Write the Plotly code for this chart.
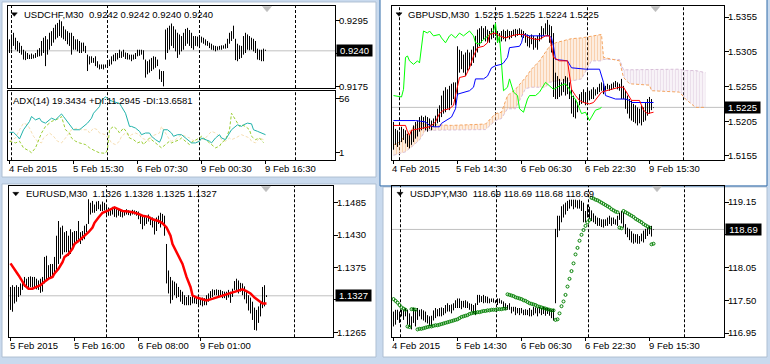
import plotly.graph_objects as go

W, H = 770, 364

# ---------------- USDCHF, M30 ----------------
usdchf_high = [0.9261,0.9270,0.9273,0.9264,0.9258,0.9255,0.9249,0.9242,0.9239,0.9236,
               0.9233,0.9235,0.9233,0.9236,0.9242,0.9245,0.9258,0.9264,0.9267,0.9261,
               0.9273,0.9276,0.9282,0.9288,0.9291,0.9297,0.9294,0.9285,0.9279,0.9276,
               0.9273,0.9273,0.9267,0.9261,0.9261,0.9258,0.9255,0.9255,0.9249,0.9233,
               0.9230,0.9230,0.9227,0.9230,0.9221,0.9215,0.9215,0.9215,0.9215,0.9219,
               0.9224,0.9230,0.9233,0.9236,0.9236,0.9242,0.9239,0.9242,0.9237,0.9236,
               0.9233,0.9233,0.9233,0.9236,0.9242,0.9242,0.9242,0.9241,0.9224,0.9221,
               0.9224,0.9227,0.9230,0.9229,0.9224,0.9206,0.9203,0.9203,0.9279,0.9282,
               0.9286,0.9290,0.9285,0.9279,0.9273,0.9270,0.9267,0.9273,0.9280,0.9282,
               0.9278,0.9273,0.9267,0.9267,0.9266,0.9268,0.9266,0.9264,0.9261,0.9258,
               0.9255,0.9253,0.9250,0.9249,0.9248,0.9249,0.9250,0.9250,0.9253,0.9262,
               0.9273,0.9276,0.9286,0.9262,0.9253,0.9250,0.9249,0.9267,0.9273,0.9270,
               0.9267,0.9264,0.9262,0.9258,0.9244,0.9242,0.9242,0.9244,0.9242]
usdchf_low = [0.9236,0.9242,0.9249,0.9242,0.9239,0.9236,0.9233,0.9224,0.9223,0.9225,
              0.9225,0.9225,0.9226,0.9227,0.9229,0.9230,0.9231,0.9236,0.9212,0.9233,
              0.9242,0.9249,0.9255,0.9261,0.9264,0.9267,0.9264,0.9261,0.9258,0.9252,
              0.9249,0.9233,0.9242,0.9242,0.9239,0.9236,0.9236,0.9239,0.9236,0.9203,
              0.9215,0.9218,0.9218,0.9212,0.9209,0.9206,0.9207,0.9206,0.9209,0.9209,
              0.9212,0.9215,0.9221,0.9221,0.9224,0.9227,0.9227,0.9229,0.9225,0.9224,
              0.9224,0.9221,0.9224,0.9225,0.9230,0.9231,0.9233,0.9224,0.9191,0.9197,
              0.9200,0.9203,0.9206,0.9209,0.9212,0.9188,0.9183,0.9175,0.9224,0.9236,
              0.9242,0.9249,0.9245,0.9239,0.9227,0.9233,0.9239,0.9242,0.9249,0.9253,
              0.9249,0.9245,0.9242,0.9249,0.9248,0.9245,0.9255,0.9253,0.9250,0.9249,
              0.9245,0.9242,0.9241,0.9239,0.9241,0.9242,0.9242,0.9244,0.9244,0.9245,
              0.9253,0.9258,0.9262,0.9223,0.9221,0.9225,0.9227,0.9233,0.9236,0.9242,
              0.9241,0.9242,0.9239,0.9236,0.9224,0.9223,0.9221,0.9221,0.9240]
usdchf_last = 0.9240
usdchf_ticks = [0.9295, 0.9235, 0.9175]
usdchf_tick_text = ["0.9295", "", "0.9175"]      # middle label hidden behind the price box
usdchf_title = "USDCHF,M30\u00a0 0.9242 0.9242 0.9240 0.9240"
usdchf_dates = ["4 Feb 2015", "5 Feb 15:30", "6 Feb 07:30", "9 Feb 00:30", "9 Feb 16:30"]
usdchf_date_bars = [0, 32, 64, 96, 128]
usdchf_day_sep = [1, 49, 95, 143]

# ADX(14) on USDCHF
adx_bars = [0,2,4,5,7,10,11,13,15,16,18,20,21,23,26,27,29,31,32,35,37,39,41,42,45,46,48,50,52,55,
            56,58,60,61,63,65,66,68,70,71,73,75,76,77,79,81,82,84,86,88,90,91,93,95,96,98,100,101,
            103,105,106,108,110,111,114,116,117,119,121,122,124,126,128]
adx_main = [21.7,21.7,17.7,15,24.3,32.7,37.7,34.3,36,32.7,31,34.3,36,34.3,40.3,37.7,32.7,27.7,24.3,24.3,
            27.7,31,36,41,47.7,54.3,57.5,54.3,52.7,51,47.7,41,27.7,27.7,26,22.7,19.3,21,21,17.7,
            14.3,11.7,16,24.3,24.3,21,17.7,19.3,19.3,16,12.7,11,11,12.7,16,14.3,12.7,11,16,19.3,
            16,14.3,21,24.3,29.3,27.7,29.3,31,30.3,24.3,22.7,21,19.3]
pdi_bars = [0,3,5,7,10,11,13,15,16,18,20,21,23,25,26,28,30,31,33,35,38,40,43,45,48,49,50,52,54,55,
            57,59,60,62,64,66,67,70,71,73,75,76,78,80,81,83,85,86,88,90,91,93,95,96,98,100,101,103,
            105,106,108,110,111,113,115,116,118,120,121,123,125,127]
pdi_vals = [12.7,11,12.7,6,2.7,1,6,16,21,27.7,31,32.7,34.3,36,37.7,24.3,21,16,12.7,11,
            9.3,6,2.7,1,0.5,4.3,24.3,27.7,24.3,21,26,21,16,14.3,11,12.7,9.3,16,14.3,11,
            7.7,6,9.3,12.7,11,12.7,14.3,16,12.7,9.3,11.7,13.7,16,17.7,14.3,11.7,9.3,6,7.7,11,
            14.3,24.3,41,34.3,27.7,29.3,27.7,24.3,17.7,14.3,16,11.3]
mdi_bars = [0,3,5,7,9,10,12,14,16,17,20,22,24,26,28,30,31,34,36,39,40,42,44,45,48,50,51,53,55,56,
            58,60,61,63,65,66,68,70,71,73,75,76,78,80,81,83,85,86,88,90,91,93,95,96,98,100,101,103,
            105,106,108,110,111,113,115,116,118,120,121,123,125,127]
mdi_vals = [12.7,16,24.3,31,29.3,26,17.7,12.7,11,16,21,17.7,12.7,11,16,21,24.3,26,24.3,24.3,
            21,26,24.3,21,19.3,14.3,11,9.3,12.7,17.7,21,17.7,19.3,21,19.3,16,14.3,12.7,17.7,19.3,
            21,27.7,21,14.3,12.7,14.3,17.7,19.3,17.7,16,14.3,12.7,12.7,14.3,16,21,22.7,21,17.7,14.3,
            12.7,16,14.3,16,17.7,19.3,17.7,16,12.7,11,16,14.3]
adx_ticks = [56, 1]
adx_tick_text = ["56", "1"]
adx_title = "ADX(14) 19.3434 +DI:11.2945 -DI:13.6581"

# ---------------- GBPUSD, M30 ----------------
gbpusd_high = [1.5204,1.5194,1.5192,1.5190,1.5197,1.5194,1.5192,1.5187,1.5185,1.5192,
               1.5199,1.5204,1.5206,1.5211,1.5213,1.5211,1.5213,1.5211,1.5209,1.5206,
               1.5209,1.5213,1.5223,1.5228,1.5242,1.5249,1.5254,1.5251,1.5256,1.5259,
               1.5261,1.5261,1.5313,1.5308,1.5306,1.5301,1.5304,1.5308,1.5304,1.5308,
               1.5313,1.5328,1.5337,1.5339,1.5342,1.5339,1.5342,1.5337,1.5335,1.5339,
               1.5344,1.5346,1.5335,1.5332,1.5335,1.5337,1.5335,1.5337,1.5335,1.5335,
               1.5337,1.5338,1.5337,1.5339,1.5337,1.5335,1.5332,1.5330,1.5328,1.5330,
               1.5328,1.5325,1.5328,1.5332,1.5342,1.5339,1.5346,1.5351,1.5344,1.5342,
               1.5332,1.5275,1.5270,1.5266,1.5261,1.5266,1.5270,1.5268,1.5261,1.5251,
               1.5242,1.5237,1.5232,1.5244,1.5247,1.5251,1.5247,1.5251,1.5249,1.5251,
               1.5254,1.5251,1.5254,1.5259,1.5261,1.5259,1.5256,1.5259,1.5257,1.5259,
               1.5261,1.5263,1.5261,1.5259,1.5266,1.5256,1.5249,1.5242,1.5237,1.5235,
               1.5230,1.5228,1.5225,1.5223,1.5228,1.5225,1.5232,1.5237,1.5240,1.5237,
               1.5225]
gbpusd_low = [1.5164,1.5171,1.5168,1.5171,1.5175,1.5178,1.5173,1.5168,1.5166,1.5171,
              1.5175,1.5180,1.5183,1.5190,1.5192,1.5194,1.5192,1.5190,1.5194,1.5192,
              1.5197,1.5197,1.5202,1.5204,1.5211,1.5216,1.5218,1.5223,1.5221,1.5228,
              1.5237,1.5228,1.5242,1.5275,1.5280,1.5275,1.5270,1.5278,1.5280,1.5285,
              1.5289,1.5297,1.5304,1.5313,1.5318,1.5323,1.5320,1.5318,1.5318,1.5323,
              1.5325,1.5328,1.5318,1.5318,1.5320,1.5323,1.5320,1.5325,1.5323,1.5325,
              1.5328,1.5326,1.5328,1.5330,1.5326,1.5325,1.5318,1.5313,1.5311,1.5316,
              1.5308,1.5311,1.5308,1.5320,1.5323,1.5328,1.5330,1.5328,1.5318,1.5304,
              1.5240,1.5237,1.5237,1.5240,1.5242,1.5247,1.5242,1.5244,1.5237,1.5216,
              1.5211,1.5209,1.5218,1.5228,1.5230,1.5232,1.5228,1.5232,1.5235,1.5237,
              1.5237,1.5242,1.5244,1.5247,1.5249,1.5244,1.5249,1.5251,1.5249,1.5250,
              1.5252,1.5254,1.5251,1.5249,1.5237,1.5237,1.5223,1.5216,1.5209,1.5206,
              1.5204,1.5202,1.5199,1.5202,1.5199,1.5204,1.5206,1.5213,1.5216,1.5221,
              1.5224]
gbpusd_last = 1.5225
gbpusd_ticks = [1.5355, 1.5305, 1.5255, 1.5205, 1.5155]
gbpusd_tick_text = ["1.5355", "1.5305", "1.5255", "1.5205", "1.5155"]
gbpusd_title = "GBPUSD,M30\u00a0 1.5225 1.5225 1.5224 1.5225"
gbpusd_dates = ["4 Feb 2015", "5 Feb 14:30", "6 Feb 06:30", "6 Feb 22:30", "9 Feb 15:30"]
gbpusd_date_bars = [0, 32, 64, 96, 128]
gbpusd_day_sep = [3, 51, 97, 145]

# Ichimoku on GBPUSD
tenkan_bars = [0,6,7,8,9,12,18,19,21,23,25,28,30,31,33,36,38,40,42,45,47,48,51,53,56,59,62,65,68,71,
               73,76,78,80,83,87,88,89,91,93,95,98,100,102,104,109,113,115,117,119,123,125,127,130]
tenkan = [1.5199,1.5199,1.5190,1.5185,1.5192,1.5194,1.5197,1.5199,1.5204,1.5216,
          1.5221,1.5223,1.5228,1.5242,1.5268,1.5270,1.5282,1.5299,1.5311,1.5313,
          1.5318,1.5330,1.5332,1.5328,1.5325,1.5328,1.5330,1.5330,1.5325,1.5323,
          1.5323,1.5328,1.5328,1.5297,1.5292,1.5292,1.5268,1.5251,1.5242,1.5235,
          1.5232,1.5230,1.5232,1.5240,1.5247,1.5251,1.5254,1.5254,1.5244,1.5235,
          1.5235,1.5221,1.5216,1.5218]
kijun_bars = [0,11,16,18,20,23,24,29,31,32,38,40,41,45,47,49,51,54,55,57,58,63,64,65,68,78,79,80,81,87,
              89,96,103,105,106,111,116,118,119,130]
kijun = [1.5206,1.5206,1.5204,1.5199,1.5197,1.5197,1.5202,1.5211,1.5223,1.5244,
         1.5249,1.5254,1.5266,1.5266,1.5270,1.5282,1.5285,1.5287,1.5289,1.5297,
         1.5311,1.5313,1.5318,1.5330,1.5328,1.5328,1.5325,1.5313,1.5294,1.5292,
         1.5282,1.5280,1.5280,1.5261,1.5242,1.5237,1.5237,1.5235,1.5232,1.5232]
chikou_bars = [0,4,5,6,7,8,10,12,13,14,15,17,18,20,23,24,26,28,29,31,33,35,37,38,40,41,43,44,46,48,
               50,51,52,53,54,55,57,58,60,62,63,65,67,68,71,73,76,78,80,82,83,86,88,89,91,93,94,96,
               98,99,101,103,104]
chikou = [1.5242,1.5240,1.5251,1.5297,1.5299,1.5292,1.5287,1.5292,1.5289,1.5313,
          1.5335,1.5332,1.5335,1.5328,1.5330,1.5325,1.5318,1.5328,1.5330,1.5325,
          1.5332,1.5328,1.5332,1.5335,1.5328,1.5318,1.5316,1.5320,1.5325,1.5330,
          1.5335,1.5346,1.5318,1.5328,1.5289,1.5249,1.5254,1.5266,1.5247,1.5242,
          1.5223,1.5218,1.5237,1.5242,1.5242,1.5247,1.5261,1.5256,1.5251,1.5254,
          1.5256,1.5259,1.5251,1.5242,1.5237,1.5223,1.5216,1.5218,1.5206,1.5211,
          1.5221,1.5223,1.5225]
kumo_bars = [0,3,6,9,13,16,21,29,38,46,51,54,57,61,66,69,73,76,78,81,84,89,94,99,104,105,109,113,
             115,118,128,129,143,146,151,156]
span_a = [1.5171,1.5175,1.5185,1.5194,1.5203,1.5200,1.5200,1.5199,1.5200,1.5201,
          1.5216,1.5218,1.5242,1.5251,1.5268,1.5280,1.5292,1.5304,1.5313,1.5318,
          1.5320,1.5324,1.5325,1.5328,1.5330,1.5297,1.5294,1.5292,1.5268,1.5259,
          1.5257,1.5249,1.5247,1.5237,1.5225,1.5225]
span_b = [1.5156,1.5159,1.5161,1.5168,1.5178,1.5192,1.5192,1.5193,1.5193,1.5193,
          1.5206,1.5209,1.5223,1.5223,1.5252,1.5254,1.5254,1.5254,1.5261,1.5263,
          1.5263,1.5263,1.5266,1.5292,1.5292,1.5294,1.5294,1.5294,1.5279,1.5279,
          1.5279,1.5280,1.5280,1.5278,1.5278,1.5275]
kumo_cross_bar = 109

# ---------------- EURUSD, M30 ----------------
eurusd_high = [1.1342,1.1345,1.1342,1.1345,1.1342,1.1348,1.1353,1.1359,1.1356,1.1359,
               1.1360,1.1359,1.1359,1.1356,1.1353,1.1356,1.1359,1.1393,1.1395,1.1379,
               1.1381,1.1381,1.1393,1.1429,1.1454,1.1443,1.1446,1.1435,1.1437,1.1429,
               1.1440,1.1435,1.1437,1.1437,1.1454,1.1435,1.1437,1.1446,1.1449,1.1491,
               1.1485,1.1488,1.1482,1.1487,1.1488,1.1482,1.1487,1.1485,1.1478,1.1477,
               1.1474,1.1478,1.1477,1.1474,1.1474,1.1472,1.1471,1.1472,1.1474,1.1472,
               1.1471,1.1473,1.1472,1.1471,1.1470,1.1465,1.1464,1.1463,1.1460,1.1465,
               1.1461,1.1460,1.1454,1.1460,1.1463,1.1468,1.1466,1.1463,1.1415,1.1370,
               1.1359,1.1353,1.1351,1.1348,1.1342,1.1337,1.1334,1.1328,1.1325,1.1328,
               1.1325,1.1328,1.1325,1.1325,1.1324,1.1323,1.1324,1.1323,1.1328,1.1331,
               1.1335,1.1338,1.1337,1.1338,1.1337,1.1337,1.1335,1.1334,1.1334,1.1337,
               1.1334,1.1339,1.1352,1.1356,1.1353,1.1349,1.1348,1.1343,1.1334,1.1328,
               1.1324,1.1317,1.1307,1.1303,1.1309,1.1315,1.1342,1.1345,1.1328]
eurusd_low = [1.1303,1.1300,1.1314,1.1317,1.1325,1.1328,1.1337,1.1342,1.1342,1.1339,
              1.1342,1.1341,1.1339,1.1338,1.1337,1.1332,1.1334,1.1348,1.1353,1.1356,
              1.1359,1.1362,1.1365,1.1370,1.1381,1.1390,1.1397,1.1401,1.1401,1.1395,
              1.1398,1.1407,1.1412,1.1418,1.1418,1.1415,1.1421,1.1423,1.1435,1.1449,
              1.1465,1.1468,1.1468,1.1471,1.1474,1.1471,1.1471,1.1472,1.1465,1.1463,
              1.1463,1.1465,1.1461,1.1460,1.1463,1.1461,1.1460,1.1463,1.1465,1.1464,
              1.1463,1.1465,1.1465,1.1463,1.1457,1.1449,1.1440,1.1446,1.1449,1.1453,
              1.1447,1.1443,1.1431,1.1437,1.1449,1.1443,1.1450,1.1429,1.1348,1.1331,
              1.1314,1.1320,1.1328,1.1323,1.1325,1.1317,1.1313,1.1311,1.1311,1.1311,
              1.1311,1.1314,1.1314,1.1313,1.1311,1.1311,1.1309,1.1311,1.1311,1.1317,
              1.1323,1.1325,1.1328,1.1328,1.1325,1.1325,1.1323,1.1323,1.1320,1.1324,
              1.1315,1.1325,1.1337,1.1334,1.1331,1.1334,1.1328,1.1321,1.1314,1.1302,
              1.1297,1.1286,1.1269,1.1268,1.1281,1.1292,1.1306,1.1309,1.1325]
eurusd_last = 1.1327
eurusd_ticks = [1.1485, 1.1430, 1.1375, 1.1320, 1.1265]
eurusd_tick_text = ["1.1485", "1.1430", "1.1375", "", "1.1265"]
eurusd_title = "EURUSD,M30\u00a0 1.1326 1.1328 1.1325 1.1327"
eurusd_dates = ["5 Feb 2015", "5 Feb 16:00", "6 Feb 08:00", "9 Feb 01:00"]
eurusd_date_bars = [0, 32, 64, 95]
eurusd_day_sep = [48, 94, 142]
ma_bars = [0,2,4,6,7,9,11,13,15,17,19,21,22,24,26,27,29,31,32,35,37,39,41,42,44,46,49,51,52,54,
           56,59,61,64,66,69,71,74,76,78,80,81,83,86,88,90,91,93,96,98,100,103,106,108,110,113,116,
           118,120,122,125,126,128]
ma_vals = [1.1382,1.1373,1.1362,1.1351,1.1345,1.1339,1.1339,1.1342,1.1345,1.1351,
           1.1356,1.1359,1.1365,1.1373,1.1384,1.1393,1.1398,1.1407,1.1415,1.1423,
           1.1429,1.1435,1.1443,1.1451,1.1460,1.1468,1.1472,1.1475,1.1477,1.1474,
           1.1471,1.1470,1.1469,1.1466,1.1463,1.1461,1.1457,1.1454,1.1450,1.1443,
           1.1429,1.1415,1.1401,1.1381,1.1359,1.1342,1.1328,1.1324,1.1321,1.1319,
           1.1321,1.1324,1.1328,1.1330,1.1332,1.1335,1.1338,1.1335,1.1331,1.1324,
           1.1317,1.1314,1.1314]

# ---------------- USDJPY, M30 ----------------
usdjpy_high = [117.31,117.34,117.34,117.31,117.34,117.34,117.37,117.34,117.28,117.23,
               117.37,117.34,117.37,117.34,117.35,117.33,117.31,117.25,117.23,117.24,
               117.33,117.37,117.35,117.37,117.38,117.37,117.42,117.45,117.42,117.43,
               117.45,117.50,117.53,117.53,117.49,117.49,117.50,117.48,117.45,117.44,
               117.42,117.45,117.59,117.59,117.57,117.59,117.57,117.56,117.53,117.53,
               117.53,117.50,117.53,117.53,117.50,117.48,117.45,117.42,117.45,117.39,
               117.39,117.39,117.37,117.37,117.37,117.34,117.35,117.34,117.37,117.34,
               117.39,117.38,117.37,117.39,117.37,117.39,117.37,117.37,117.35,117.34,
               117.35,118.70,118.92,118.92,119.08,119.11,119.14,119.17,119.19,119.19,
               119.19,119.19,119.18,119.19,119.17,119.14,119.00,119.11,119.07,119.01,
               118.96,118.92,118.89,118.88,118.86,118.86,118.86,118.89,118.92,118.89,
               118.89,118.86,118.92,118.97,119.00,118.97,118.78,118.72,118.70,118.66,
               118.62,118.61,118.61,118.58,118.62,118.67,118.70,118.72,118.75,118.75,
               118.69]
usdjpy_low = [117.06,117.09,117.17,117.12,117.23,117.17,117.23,117.09,117.05,117.01,
              117.12,117.06,117.17,117.23,117.18,117.16,117.13,117.11,117.07,117.06,
              117.16,117.20,117.23,117.23,117.23,117.25,117.28,117.31,117.31,117.28,
              117.33,117.37,117.37,117.37,117.35,117.38,117.37,117.37,117.34,117.31,
              117.28,117.25,117.42,117.46,117.47,117.45,117.46,117.45,117.45,117.47,
              117.46,117.45,117.42,117.45,117.44,117.37,117.34,117.34,117.34,117.28,
              117.31,117.25,117.28,117.25,117.28,117.25,117.25,117.25,117.23,117.23,
              117.25,117.28,117.23,117.28,117.25,117.27,117.24,117.27,117.24,117.20,
              117.16,117.45,118.56,118.67,118.81,118.89,118.94,119.00,119.04,119.08,
              119.03,119.06,119.04,119.04,119.00,118.81,118.81,118.89,118.86,118.83,
              118.81,118.78,118.75,118.75,118.73,118.72,118.75,118.75,118.78,118.75,
              118.78,118.77,118.75,118.85,118.79,118.72,118.61,118.56,118.51,118.47,
              118.45,118.47,118.45,118.45,118.49,118.47,118.53,118.58,118.61,118.57,
              118.68]
usdjpy_sar = [117.52,117.49,117.46,117.42,117.38,117.36,117.34,117.06,117.05,117.35,
              117.35,117.34,117.01,117.02,117.02,117.03,117.04,117.05,117.06,117.06,
              117.07,117.08,117.08,117.09,117.10,117.11,117.12,117.13,117.14,117.15,
              117.16,117.17,117.18,117.20,117.22,117.23,117.24,117.25,117.27,117.28,
              117.29,117.29,117.30,117.30,117.31,117.32,117.32,117.33,117.33,117.34,
              117.34,117.34,117.35,117.35,117.35,117.36,117.36,117.60,117.59,117.58,
              117.57,117.55,117.54,117.53,117.52,117.50,117.49,117.47,117.45,117.44,
              117.43,117.42,117.40,117.39,117.38,117.37,117.36,117.35,117.34,117.33,
              117.33,117.17,117.18,117.28,117.40,117.48,117.59,117.73,117.86,117.99,
              118.12,118.27,118.38,118.50,118.60,118.68,118.75,118.81,118.85,119.22,
              119.21,119.19,119.18,119.16,119.14,119.12,119.10,119.08,119.06,119.03,
              119.01,118.99,118.98,118.72,118.71,119.00,118.98,118.96,118.94,118.92,
              118.90,118.87,118.85,118.83,118.81,118.78,118.76,118.74,118.72,118.44,
              118.45]
usdjpy_last = 118.69
usdjpy_ticks = [119.15, 118.60, 118.05, 117.50, 116.95]
usdjpy_tick_text = ["119.15", "", "118.05", "117.50", "116.95"]
usdjpy_title = "USDJPY,M30\u00a0 118.69 118.69 118.68 118.69"
usdjpy_dates = ["4 Feb 2015", "5 Feb 14:30", "6 Feb 06:30", "6 Feb 22:30", "9 Feb 15:30"]
usdjpy_date_bars = [0, 32, 64, 96, 128]
usdjpy_day_sep = [3.5, 51.5, 97.5, 145.5]

# ---------------- helpers ----------------
FONT = "Liberation Sans"
FS = 9.5
MDI_BG = "#c9daee"


def fx(p):
    return p / W


def fy(p):
    return 1 - p / H


def xrange_px(left, right, bar0):
    r0 = -(bar0 + 0.5 - left) / 2.0
    return [r0, r0 + (right - left) / 2.0]


def yrange_px(top, bot, v1, p1, v2, p2):
    k = (v1 - v2) / (p2 - p1)
    return [v2 - (bot - p2) * k, v1 + (p1 - top) * k]


def bar_lines(high, low):
    xs, ys = [], []
    for i, (h, l) in enumerate(zip(high, low)):
        xs += [i, i, None]
        ys += [l, h, None]
    return xs, ys


def fmt(v, nd):
    return f"{v:.{nd}f}"


fig = go.Figure()

# Panel geometry (pixels)
P = {
    "chf": dict(l=8, r=335, t=6, b=89, bar0=9),
    "adx": dict(l=8, r=335, t=92, b=162, bar0=9),
    "gbp": dict(l=392, r=724, t=6, b=162, bar0=393),
    "eur": dict(l=9, r=333, t=188, b=341, bar0=10),
    "jpy": dict(l=392, r=724, t=188, b=341, bar0=393),
}

axis_base = dict(showline=True, linecolor="black", linewidth=1, mirror=True, showgrid=False,
                 zeroline=False, fixedrange=True)
ytick_font = dict(family=FONT, size=FS, color="black")


def set_axes(n, key, yr, yticks, ytext, xticks=None):
    g = P[key]
    xa = dict(axis_base, domain=[fx(g["l"]), fx(g["r"])], range=xrange_px(g["l"], g["r"], g["bar0"]),
              anchor=f"y{n}" if n > 1 else "y", showticklabels=False)
    if xticks is not None:
        xa.update(ticks="outside", ticklen=3, tickcolor="black", tickvals=xticks)
    else:
        xa.update(ticks="")
    ya = dict(axis_base, domain=[fy(g["b"]), fy(g["t"])], range=yr, side="right",
              anchor=f"x{n}" if n > 1 else "x", ticks="outside", ticklen=4, tickcolor="black",
              tickvals=yticks, ticktext=ytext, tickfont=ytick_font, ticklabelstandoff=-3)
    fig.update_layout(**{f"xaxis{n if n > 1 else ''}": xa, f"yaxis{n if n > 1 else ''}": ya})


set_axes(1, "chf", yrange_px(6, 89, 0.9295, 21, 0.9175, 87.3), usdchf_ticks, usdchf_tick_text)
set_axes(2, "adx", yrange_px(92, 162, 56, 99.5, 1, 154.5), adx_ticks, adx_tick_text, usdchf_date_bars)
set_axes(3, "gbp", yrange_px(6, 162, 1.5355, 17.3, 1.5155, 157.7), gbpusd_ticks, gbpusd_tick_text,
         gbpusd_date_bars)
set_axes(4, "eur", yrange_px(188, 341, 1.1485, 205, 1.1265, 336), eurusd_ticks, eurusd_tick_text,
         eurusd_date_bars)
set_axes(5, "jpy", yrange_px(188, 341, 119.15, 204.3, 116.95, 336.7), usdjpy_ticks, usdjpy_tick_text,
         usdjpy_date_bars)

# ---------------- traces ----------------
# USDCHF bars
bx, by = bar_lines(usdchf_high, usdchf_low)
fig.add_trace(go.Scatter(x=bx, y=by, mode="lines", line=dict(color="black", width=1),
                         xaxis="x", yaxis="y", hoverinfo="skip"))
# ADX
fig.add_trace(go.Scatter(x=mdi_bars, y=mdi_vals, mode="lines", line=dict(color="#F5DEB3", width=1, dash="3px,2px"),
                         xaxis="x2", yaxis="y2", hoverinfo="skip"))
fig.add_trace(go.Scatter(x=pdi_bars, y=pdi_vals, mode="lines", line=dict(color="#9ACD32", width=1, dash="3px,2px"),
                         xaxis="x2", yaxis="y2", hoverinfo="skip"))
fig.add_trace(go.Scatter(x=adx_bars, y=adx_main, mode="lines", line=dict(color="#20B2AA", width=1),
                         xaxis="x2", yaxis="y2", hoverinfo="skip"))

# GBPUSD Ichimoku cloud
up_idx = [k for k, b in enumerate(kumo_bars) if b <= kumo_cross_bar]
dn_idx = [k for k, b in enumerate(kumo_bars) if b >= kumo_cross_bar]
for idxs, col, top, bot in [(up_idx, "#F4A460", span_a, span_b), (dn_idx, "#D8BFD8", span_b, span_a)]:
    xs = [kumo_bars[k] for k in idxs]
    fig.add_trace(go.Scatter(x=xs, y=[bot[k] for k in idxs], mode="lines", line=dict(width=0),
                             xaxis="x3", yaxis="y3", hoverinfo="skip"))
    fig.add_trace(go.Scatter(x=xs, y=[top[k] for k in idxs], mode="lines", line=dict(width=0),
                             fill="tonexty", fillcolor="rgba(0,0,0,0)",
                             fillpattern=dict(shape="|", fgcolor=col, bgcolor="rgba(255,255,255,0)",
                                              size=3, solidity=0.6),
                             xaxis="x3", yaxis="y3", hoverinfo="skip"))
fig.add_trace(go.Scatter(x=kumo_bars, y=span_b, mode="lines", line=dict(color="#D8BFD8", width=1, dash="3px,2px"),
                         xaxis="x3", yaxis="y3", hoverinfo="skip"))
fig.add_trace(go.Scatter(x=kumo_bars, y=span_a, mode="lines", line=dict(color="#F4A460", width=1, dash="3px,2px"),
                         xaxis="x3", yaxis="y3", hoverinfo="skip"))
bx, by = bar_lines(gbpusd_high, gbpusd_low)
fig.add_trace(go.Scatter(x=bx, y=by, mode="lines", line=dict(color="black", width=1),
                         xaxis="x3", yaxis="y3", hoverinfo="skip"))
fig.add_trace(go.Scatter(x=chikou_bars, y=chikou, mode="lines", line=dict(color="#00FF00", width=1),
                         xaxis="x3", yaxis="y3", hoverinfo="skip"))
fig.add_trace(go.Scatter(x=kijun_bars, y=kijun, mode="lines", line=dict(color="#0000FF", width=1),
                         xaxis="x3", yaxis="y3", hoverinfo="skip"))
fig.add_trace(go.Scatter(x=tenkan_bars, y=tenkan, mode="lines", line=dict(color="#FF0000", width=1),
                         xaxis="x3", yaxis="y3", hoverinfo="skip"))

# EURUSD
bx, by = bar_lines(eurusd_high, eurusd_low)
fig.add_trace(go.Scatter(x=bx, y=by, mode="lines", line=dict(color="black", width=1),
                         xaxis="x4", yaxis="y4", hoverinfo="skip"))
fig.add_trace(go.Scatter(x=ma_bars, y=ma_vals, mode="lines", line=dict(color="#FF0000", width=2.5),
                         xaxis="x4", yaxis="y4", hoverinfo="skip"))

# USDJPY
bx, by = bar_lines(usdjpy_high, usdjpy_low)
fig.add_trace(go.Scatter(x=bx, y=by, mode="lines", line=dict(color="black", width=1),
                         xaxis="x5", yaxis="y5", hoverinfo="skip"))
fig.add_trace(go.Scatter(x=list(range(len(usdjpy_sar))), y=usdjpy_sar, mode="markers",
                         marker=dict(symbol="circle-open", size=3, color="#008000", line=dict(width=1)),
                         xaxis="x5", yaxis="y5", hoverinfo="skip"))

# ---------------- shapes ----------------
shapes = []
# MDI child windows
for (x0, y0, x1, y1, border) in [(2, 2, 376, 179, "#aebfd3"), (2, 186, 376, 361, "#aebfd3"),
                                 (383, 189, 767, 361, "#aebfd3"), (380, -2, 767, 188, "#2f6aa8")]:
    shapes.append(dict(type="rect", xref="paper", yref="paper", x0=fx(x0), x1=fx(x1), y0=fy(y1), y1=fy(y0),
                       fillcolor="white", line=dict(color=border, width=1), layer="below"))

# current price lines
for xr, yr, v in [("x", "y", usdchf_last), ("x3", "y3", gbpusd_last), ("x4", "y4", eurusd_last),
                  ("x5", "y5", usdjpy_last)]:
    shapes.append(dict(type="line", xref=f"{xr} domain", yref=yr, x0=0, x1=1, y0=v, y1=v,
                       line=dict(color="#C0C0C0", width=1), layer="below"))

# day separators
for xr, yr, seps in [("x", "y", usdchf_day_sep), ("x2", "y2", usdchf_day_sep), ("x3", "y3", gbpusd_day_sep),
                     ("x4", "y4", eurusd_day_sep), ("x5", "y5", usdjpy_day_sep)]:
    for s in seps:
        shapes.append(dict(type="line", xref=xr, yref=f"{yr} domain", x0=s, x1=s, y0=0, y1=1,
                           line=dict(color="black", width=1, dash="3px,2px"), layer="below"))


def tri(cx, top, w, h, color):
    path = f"M{fx(cx - w / 2)},{fy(top)} L{fx(cx + w / 2)},{fy(top)} L{fx(cx)},{fy(top + h)} Z"
    return dict(type="path", xref="paper", yref="paper", path=path, fillcolor=color,
                line=dict(color=color, width=0.5), layer="above")


for cx, top in [(14.3, 13), (399, 13), (15.8, 194.5), (400, 194.5)]:
    shapes.append(tri(cx, top, 6, 3.5, "black"))
for cx, top in [(267, 6.5), (655.5, 6.5), (266, 188.5), (657, 188.5)]:
    shapes.append(tri(cx, top, 9, 5.5, "#BDBDBD"))

# ---------------- annotations ----------------
ann = []
tfont = dict(family=FONT, size=FS, color="black")
for x, y, t in [(24, 14.5, usdchf_title), (407.5, 14.5, gbpusd_title), (26, 196, eurusd_title),
                (410, 196, usdjpy_title), (13, 101.5, adx_title)]:
    ann.append(dict(x=fx(x) - 1 / W, y=fy(y), xref="paper", yref="paper", text=t, showarrow=False,
                    xanchor="left", yanchor="middle", font=tfont, borderpad=0))

for xr, bars, labels, ypix in [("x2", usdchf_date_bars, usdchf_dates, 170.5),
                               ("x3", gbpusd_date_bars, gbpusd_dates, 170.5),
                               ("x4", eurusd_date_bars, eurusd_dates, 349.5),
                               ("x5", usdjpy_date_bars, usdjpy_dates, 349.5)]:
    for b, lab in zip(bars, labels):
        ann.append(dict(x=b, y=fy(ypix), xref=xr, yref="paper", text=lab, showarrow=False,
                        xanchor="left", yanchor="middle", font=tfont, xshift=-2, borderpad=0))

for xpix, yr, v, nd in [(336, "y", usdchf_last, 4), (724, "y3", gbpusd_last, 4), (335, "y4", eurusd_last, 4),
                        (725, "y5", usdjpy_last, 2)]:
    ann.append(dict(x=fx(xpix), y=v, xref="paper", yref=yr, text=fmt(v, nd), showarrow=False,
                    xanchor="left", yanchor="middle", font=dict(family=FONT, size=FS, color="white"),
                    bgcolor="black", width=34, height=10, borderpad=0.5, align="center"))

fig.update_layout(width=W, height=H, margin=dict(l=0, r=0, t=0, b=0), paper_bgcolor=MDI_BG,
                  plot_bgcolor="white", showlegend=False, shapes=shapes, annotations=ann,
                  font=dict(family=FONT, size=FS, color="black"), hovermode=False)

fig.write_html("out.html", config={"displayModeBar": False, "staticPlot": True},
               post_script="document.body.style.margin='0';document.body.style.overflow='hidden';")
